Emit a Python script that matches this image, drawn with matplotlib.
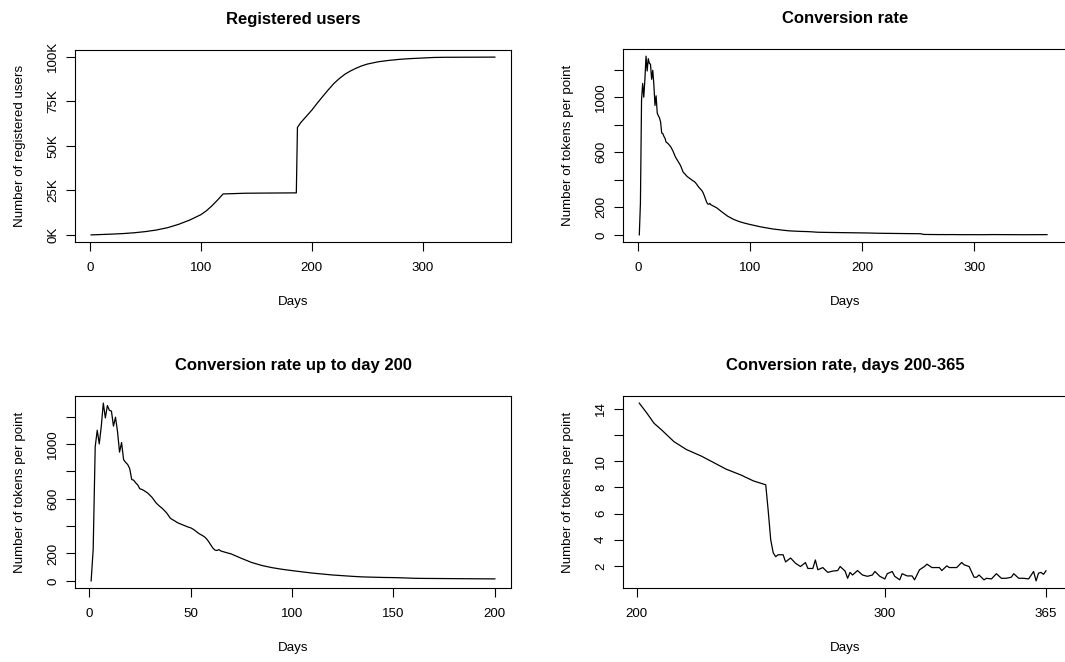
import matplotlib
matplotlib.use('Agg')
import matplotlib.pyplot as plt

plt.rcParams['font.family'] = ['Liberation Sans', 'DejaVu Sans']

W, H = 1065, 662

# ---------------- data ----------------
users_days = [1, 10, 20, 30, 40, 50, 60, 70, 80, 90, 100, 105, 110, 115, 120,
              130, 140, 160, 186, 187, 190, 195, 200, 205, 210, 215, 220, 225,
              230, 235, 240, 245, 250, 260, 270, 280, 290, 300, 310, 320, 365]
users_count = [50, 250, 500, 800, 1250, 1900, 2800, 4100, 6000, 8400, 11400,
               13600, 16400, 19600, 23000, 23200, 23400, 23500, 23600, 60300,
               63000, 66500, 70000, 74000, 77800, 81500, 85000, 87800, 90200,
               92000, 93500, 94800, 95800, 97100, 97900, 98500, 98900, 99200,
               99500, 99600, 99700]

conv_days = list(range(1, 66)) + [68, 70, 75, 80, 85, 90, 95, 100, 105, 110,
    115, 120, 125, 130, 135, 140, 145, 150, 155, 160, 165, 170, 175, 180, 185,
    190, 195, 200, 201, 204, 207, 210, 215, 220, 226, 231, 236, 242, 247, 252,
    253, 254, 255, 256, 257, 259, 260, 262, 264, 266, 268, 269, 271, 272, 273,
    275, 277, 279, 281, 282, 284, 285, 286, 287, 289, 291, 293, 295, 296, 298,
    300, 301, 303, 304, 306, 307, 309, 311, 312, 314, 316, 317, 319, 322, 323,
    325, 326, 329, 331, 332, 334, 336, 337, 338, 340, 341, 343, 345, 347, 349,
    351, 352, 354, 356, 358, 360, 361, 362, 363, 364, 365]
conv_values = [0, 230, 980, 1100, 1000, 1130, 1298, 1190, 1280, 1245, 1240,
    1130, 1195, 1090, 940, 1010, 885, 865, 850, 820, 740, 735, 715, 700, 672,
    668, 660, 650, 640, 625, 610, 590, 570, 555, 542, 530, 515, 500, 480, 458,
    448, 440, 430, 422, 416, 410, 404, 398, 392, 388, 380, 370, 358, 347, 338,
    330, 320, 305, 285, 262, 240, 225, 222, 228, 218,
    205, 197, 165, 135, 113, 97, 85, 75, 66, 57, 50, 43, 38, 33, 29, 27, 25,
    24, 22, 19, 18, 17.5, 17, 16.5, 16, 15.5, 15, 14.6,
    14.45, 13.7, 12.9, 12.4, 11.5, 10.9, 10.4, 9.9, 9.4, 8.95, 8.5, 8.2,
    6.2, 4.0, 3.0, 2.7, 2.85, 2.85, 2.3, 2.6, 2.2, 1.95, 2.25, 1.8, 1.8, 2.45,
    1.7, 1.87, 1.5, 1.6, 1.64, 1.95, 1.6, 1.05, 1.5, 1.3, 1.64, 1.3, 1.2, 1.3,
    1.57, 1.2, 1.0, 1.4, 1.57, 1.2, 0.93, 1.4, 1.23, 1.23, 0.93, 1.7, 1.95,
    2.13, 1.87, 1.87, 1.64, 2.0, 1.87, 1.87, 2.26, 2.08, 1.95, 1.13, 1.13, 1.3,
    0.93, 1.05, 1.0, 1.4, 1.05, 1.05, 1.13, 1.4, 1.05, 1.05, 1.0, 1.57, 0.85,
    1.44, 1.5, 1.35, 1.62]

titles = ["Registered users", "Conversion rate",
          "Conversion rate up to day 200", "Conversion rate, days 200-365"]
ylabels = ["Number of registered users", "Number of tokens per point",
           "Number of tokens per point", "Number of tokens per point"]
xlabel = "Days"

users_ticks = [0, 25000, 50000, 75000, 100000]
users_ticklabels = ["0K", "25K", "50K", "75K", "100K"]
conv_ticks = [0, 200, 400, 600, 800, 1000, 1200]
conv_ticklabels = ["0", "200", "", "600", "", "1000", ""]
late_ticks = [2, 4, 6, 8, 10, 12, 14]
late_ticklabels = ["2", "4", "6", "8", "10", "", "14"]
x_ticks_full = [0, 100, 200, 300]
x_ticks_early = [0, 50, 100, 150, 200]
x_ticks_late = [200, 300, 365]

# ---------------- figure ----------------
fig = plt.figure(figsize=(W / 100, H / 100), dpi=100)
FS = 9.6


def make_axes(l, t, r, b):
    return fig.add_axes([l / W, 1 - b / H, (r - l) / W, (b - t) / H])


def rpad(lo, hi):
    d = (hi - lo) * 0.04
    return lo - d, hi + d


def style(ax, title, ylabel, box_w, box_h):
    for s in ax.spines.values():
        s.set_linewidth(0.8)
        s.set_color('black')
    ax.tick_params(direction='out', length=6.5, width=0.8, colors='black',
                   labelsize=FS)
    ax.tick_params(axis='x', pad=8)
    ax.tick_params(axis='y', labelrotation=90, pad=5)
    for lab in ax.get_yticklabels():
        lab.set_va('center')
    ax.set_title(title, fontsize=12, fontweight='bold', pad=19.0)
    ax.set_xlabel(xlabel, fontsize=FS, va='center')
    ax.xaxis.set_label_coords(0.5, -60.5 / box_h)
    ax.set_ylabel(ylabel, fontsize=FS, va='center')
    ax.yaxis.set_label_coords(-55.5 / box_w, 0.5)


# Panel 1
ax1 = make_axes(75, 50, 511, 242)
ax1.plot(users_days, users_count, color='black', lw=0.9)
ax1.set_xlim(*rpad(min(users_days), max(users_days)))
ax1.set_ylim(*rpad(min(users_count), max(users_count)))
ax1.set_xticks(x_ticks_full)
ax1.set_yticks(users_ticks)
ax1.set_yticklabels(users_ticklabels)
style(ax1, titles[0], ylabels[0], 436, 192)

# Panel 2
ax2 = make_axes(623, 49, 1067, 242)
ax2.plot(conv_days, conv_values, color='black', lw=0.9)
lo = rpad(min(conv_days), max(conv_days))[0]
ax2.set_xlim(lo, lo + 444 / 1.12)
ax2.set_ylim(*rpad(min(conv_values), max(conv_values)))
ax2.set_xticks(x_ticks_full)
ax2.set_yticks(conv_ticks)
ax2.set_yticklabels(conv_ticklabels)
style(ax2, titles[1], ylabels[1], 444, 193)

# Panel 3
d3 = [d for d in conv_days if d <= 200]
v3 = [v for d, v in zip(conv_days, conv_values) if d <= 200]
ax3 = make_axes(75, 396, 511, 588)
ax3.plot(d3, v3, color='black', lw=0.9)
ax3.set_xlim(*rpad(min(d3), max(d3)))
ax3.set_ylim(*rpad(min(v3), max(v3)))
ax3.set_xticks(x_ticks_early)
ax3.set_yticks(conv_ticks)
ax3.set_yticklabels(conv_ticklabels)
style(ax3, titles[2], ylabels[2], 436, 192)

# Panel 4
d4 = [d for d in conv_days if d > 200]
v4 = [v for d, v in zip(conv_days, conv_values) if d > 200]
ax4 = make_axes(623, 396, 1067, 588)
ax4.plot(d4, v4, color='black', lw=0.9)
lo4 = rpad(min(d4), max(d4))[0]
ax4.set_xlim(lo4, lo4 + 444 / 2.48)
ax4.set_ylim(*rpad(min(v4), max(v4)))
ax4.set_xticks(x_ticks_late)
ax4.set_yticks(late_ticks)
ax4.set_yticklabels(late_ticklabels)
style(ax4, titles[3], ylabels[3], 444, 192)

fig.savefig('out.png', dpi=100)
